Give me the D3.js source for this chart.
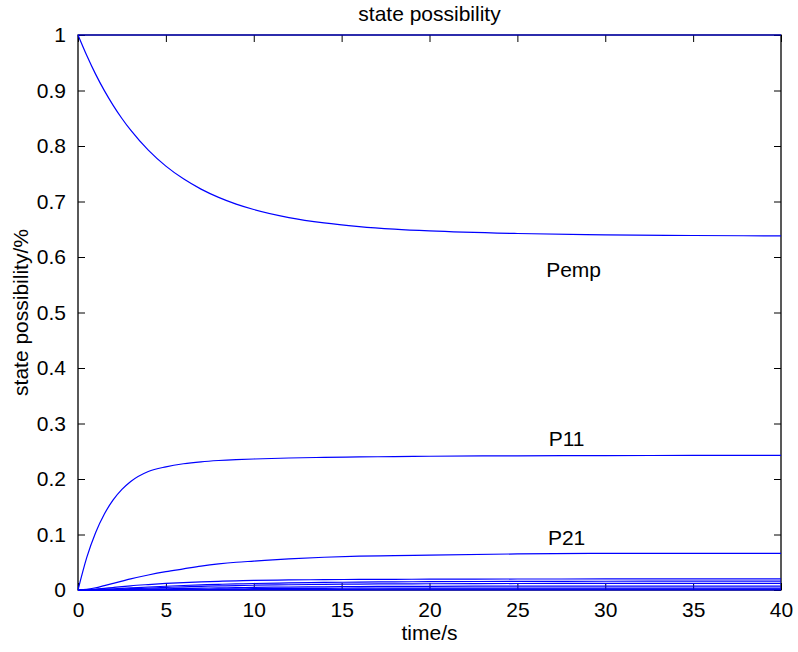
<!DOCTYPE html>
<html>
<head>
<meta charset="utf-8">
<script src="https://cdn.jsdelivr.net/npm/d3@7"></script>
<style>
html,body{margin:0;padding:0;background:#fff;}
text{font-family:"Liberation Sans",Arial,Helvetica,sans-serif;fill:#000;}
</style>
</head>
<body>
<svg id="chart" width="798" height="652"></svg>
<script>
const t = [0,0.5,1,1.5,2,2.5,3,4,5,6,7,8,9,10,12,14,16,18,20,25,30,35,40];
const total = t.map(() => 1);
const pemp = [1,0.963,0.9295,0.8998,0.8733,0.8496,0.8284,0.7925,0.7637,0.7408,0.7223,0.7074,0.6953,0.6856,0.6711,0.6614,0.6549,0.6503,0.647,0.6423,0.64,0.6387,0.638];
const p11 = [0,0.0587,0.1031,0.1368,0.1623,0.1812,0.1955,0.2135,0.222,0.2275,0.231,0.2333,0.2349,0.236,0.2378,0.239,0.2398,0.2404,0.241,0.2418,0.2422,0.2425,0.2427];
const p21 = [0,0.001,0.004,0.008,0.012,0.016,0.02,0.027,0.033,0.038,0.043,0.047,0.05,0.052,0.056,0.059,0.061,0.062,0.063,0.065,0.066,0.066,0.066];
const l1 = [0,0.0005,0.0015,0.003,0.0045,0.006,0.0075,0.0098,0.0118,0.0134,0.0147,0.0157,0.0165,0.0172,0.0181,0.0187,0.0191,0.0193,0.0195,0.0198,0.0199,0.02,0.02];
const l2 = [0,0.0002,0.0007,0.0014,0.0022,0.003,0.0038,0.0054,0.0068,0.0081,0.0092,0.0102,0.011,0.0117,0.0128,0.0136,0.0142,0.0147,0.015,0.0155,0.0158,0.0159,0.016];
const l3 = [0,0.0001,0.0004,0.0008,0.0013,0.0018,0.0024,0.0035,0.0046,0.0056,0.0065,0.0073,0.008,0.0086,0.0095,0.0102,0.0107,0.0111,0.0113,0.0117,0.0119,0.012,0.012];
const l4 = [0,0,0.0001,0.0003,0.0005,0.0007,0.001,0.0016,0.0022,0.0028,0.0034,0.0039,0.0043,0.0047,0.0053,0.0058,0.0062,0.0065,0.0067,0.0069,0.007,0.007,0.007];
const l5 = [0,0,0,0.0001,0.0002,0.0003,0.0004,0.0007,0.001,0.0013,0.0016,0.0019,0.0021,0.0023,0.0027,0.003,0.0032,0.0033,0.0034,0.0035,0.0035,0.0035,0.0035];
const l6 = [0,0,0,0,0,0.0001,0.0001,0.0002,0.0003,0.0005,0.0006,0.0007,0.0008,0.0009,0.0011,0.0012,0.0013,0.0014,0.0014,0.0015,0.0015,0.0015,0.0015];
const l7 = t.map(() => 0);
const seriesList = [total, pemp, p11, p21, l1, l2, l3, l4, l5, l6, l7];
const xTicks = [0,5,10,15,20,25,30,35,40];
const yTicks = [0,0.1,0.2,0.3,0.4,0.5,0.6,0.7,0.8,0.9,1];
const labels = [{text:"Pemp", t:28.2, v:0.564}, {text:"P11", t:27.8, v:0.259}, {text:"P21", t:27.8, v:0.081}];

const svg = d3.select("#chart");
const m = {left:78, top:35, right:17, bottom:62};
const W = 798 - m.left - m.right, H = 652 - m.top - m.bottom;
const x = d3.scaleLinear().domain([0,40]).range([m.left, m.left+W]);
const y = d3.scaleLinear().domain([0,1]).range([m.top+H, m.top]);
const FS = "21px";

const tickLen = 7;
svg.append("g").attr("transform",`translate(0,${m.top+H})`)
  .call(d3.axisBottom(x).tickValues(xTicks).tickSize(-tickLen).tickPadding(tickLen+5).tickFormat(d3.format("d")))
  .call(g=>{g.select(".domain").remove(); g.selectAll("text").style("font-size",FS);});
svg.append("g").attr("transform",`translate(0,${m.top})`)
  .call(d3.axisTop(x).tickValues(xTicks).tickSize(-tickLen).tickFormat(""))
  .call(g=>g.select(".domain").remove());
svg.append("g").attr("transform",`translate(${m.left},0)`)
  .call(d3.axisLeft(y).tickValues(yTicks).tickSize(-tickLen).tickPadding(tickLen+5).tickFormat(d=>d3.format("")(+d.toFixed(1))))
  .call(g=>{g.select(".domain").remove(); g.selectAll("text").style("font-size",FS);});
svg.append("g").attr("transform",`translate(${m.left+W},0)`)
  .call(d3.axisRight(y).tickValues(yTicks).tickSize(-tickLen).tickFormat(""))
  .call(g=>g.select(".domain").remove());

svg.selectAll(".tick line").attr("stroke","#000").attr("stroke-width",1);

svg.append("rect").attr("x",m.left).attr("y",m.top).attr("width",W).attr("height",H)
  .attr("fill","none").attr("stroke","#000").attr("stroke-width",1.3);

const line = d3.line().x((d,i)=>x(t[i])).y(d=>y(d)).curve(d3.curveMonotoneX);
svg.append("g").selectAll("path").data(seriesList).join("path")
  .attr("d", line).attr("fill","none").attr("stroke","#0000ff").attr("stroke-width",1.2);

svg.append("g").selectAll("text").data(labels).join("text")
  .attr("x", d=>x(d.t)).attr("y", d=>y(d.v)).attr("text-anchor","middle")
  .style("font-size",FS).text(d=>d.text);

svg.append("text").attr("x", m.left+W/2).attr("y", 21).attr("text-anchor","middle")
  .style("font-size",FS).text("state possibility");
svg.append("text").attr("x", m.left+W/2).attr("y", 640).attr("text-anchor","middle")
  .style("font-size",FS).text("time/s");
svg.append("text").attr("transform",`translate(28,${m.top+H/2}) rotate(-90)`).attr("text-anchor","middle")
  .style("font-size",FS).text("state possibility/%");
</script>
</body>
</html>
